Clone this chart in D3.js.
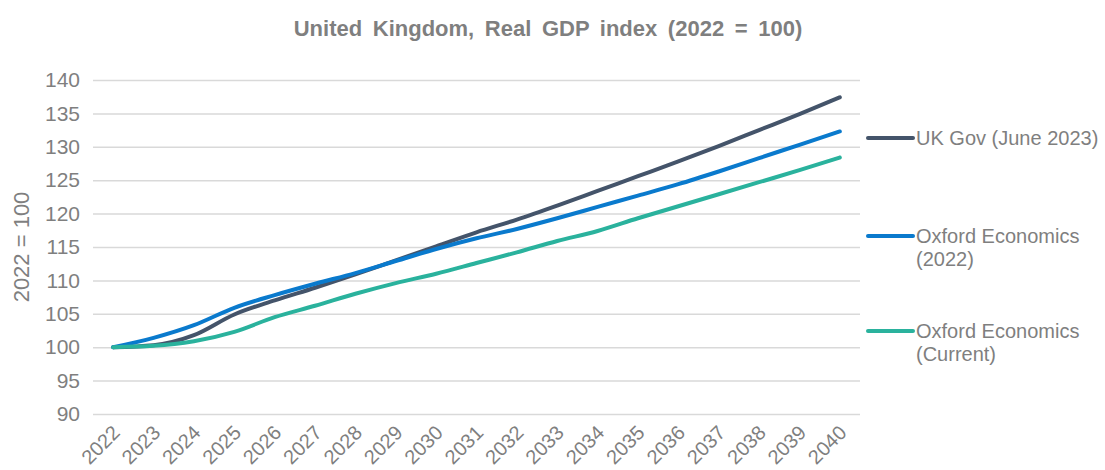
<!DOCTYPE html>
<html>
<head>
<meta charset="utf-8">
<script src="https://cdn.jsdelivr.net/npm/d3@7"></script>
<style>
  html, body { margin: 0; padding: 0; background: #fff; }
  svg { display: block; font-family: "Liberation Sans", Arial, sans-serif; }
</style>
</head>
<body>
<svg id="chart" width="1105" height="470"></svg>
<script>
// Years on the category axis
const years = [2022, 2023, 2024, 2025, 2026, 2027, 2028, 2029, 2030, 2031,
               2032, 2033, 2034, 2035, 2036, 2037, 2038, 2039, 2040];

// Real GDP index, 2022 = 100
const ukGov = [100, 100.3, 101.8, 104.9, 107.0, 108.9, 110.9, 113.0, 115.1, 117.2,
               119.1, 121.2, 123.4, 125.6, 127.8, 130.1, 132.5, 134.9, 137.4];
const oxford2022 = [100, 101.4, 103.3, 105.9, 107.8, 109.5, 111.1, 112.9, 114.7, 116.3,
                    117.7, 119.3, 121.0, 122.7, 124.4, 126.3, 128.3, 130.3, 132.3];
const oxfordCurrent = [100, 100.2, 100.9, 102.3, 104.5, 106.2, 108.0, 109.6, 111.0, 112.6,
                       114.2, 115.9, 117.4, 119.3, 121.1, 122.9, 124.7, 126.5, 128.4];

const seriesNames = ["UK Gov (June 2023)", "Oxford Economics (2022)", "Oxford Economics (Current)"];
const yTicks = [90, 95, 100, 105, 110, 115, 120, 125, 130, 135, 140];

const series = [
  { name: seriesNames[0], values: ukGov, color: "#44546A", lines: ["UK Gov (June 2023)"] },
  { name: seriesNames[1], values: oxford2022, color: "#0A7ACD", lines: ["Oxford Economics", "(2022)"] },
  { name: seriesNames[2], values: oxfordCurrent, color: "#2AB29D", lines: ["Oxford Economics", "(Current)"] }
];

const textGrey = "#7F7F7F";
const gridGrey = "#D9D9D9";

const svg = d3.select("#chart");
const plot = { left: 93, right: 860, top: 80, bottom: 414 };

const x = d3.scaleBand()
  .domain(years)
  .range([plot.left, plot.right]);

const y = d3.scaleLinear()
  .domain([90, 140])
  .range([plot.bottom, plot.top]);

// Title
svg.append("text")
  .attr("x", 548)
  .attr("y", 36)
  .attr("text-anchor", "middle")
  .attr("font-size", 22)
  .attr("font-weight", "bold")
  .attr("fill", textGrey)
  .attr("word-spacing", 4.5)
  .text("United Kingdom, Real GDP index (2022 = 100)");

// Horizontal gridlines and y tick labels
const yAxis = d3.axisLeft(y)
  .tickValues(yTicks)
  .tickSize(-(plot.right - plot.left))
  .tickPadding(13)
  .tickFormat(d3.format("d"));

const gy = svg.append("g")
  .attr("transform", `translate(${plot.left},0)`)
  .call(yAxis);
gy.select(".domain").remove();
gy.selectAll(".tick line")
  .attr("stroke", gridGrey)
  .attr("stroke-width", 1.5);
gy.selectAll(".tick text")
  .attr("font-size", 21)
  .attr("fill", textGrey)
  .attr("font-family", "Liberation Sans, Arial, sans-serif");

// Y axis title
svg.append("text")
  .attr("transform", "translate(29,247) rotate(-90)")
  .attr("text-anchor", "middle")
  .attr("font-size", 22)
  .attr("fill", textGrey)
  .text("2022 = 100");

// X axis labels, rotated
const xAxis = d3.axisBottom(x).tickSize(0).tickPadding(0);
const gx = svg.append("g")
  .attr("transform", `translate(0,${plot.bottom})`)
  .call(xAxis);
gx.select(".domain").remove();
gx.selectAll(".tick text")
  .attr("font-size", 20)
  .attr("fill", textGrey)
  .attr("font-family", "Liberation Sans, Arial, sans-serif")
  .attr("text-anchor", "end")
  .attr("dy", 0)
  .attr("transform", "translate(8,20) rotate(-45)");

// Series lines
const line = d3.line()
  .x((d, i) => x(years[i]) + x.bandwidth() / 2)
  .y(d => y(d))
  .curve(d3.curveMonotoneX);

svg.append("g")
  .selectAll("path")
  .data(series)
  .join("path")
  .attr("d", d => line(d.values))
  .attr("fill", "none")
  .attr("stroke", d => d.color)
  .attr("stroke-width", 4)
  .attr("stroke-linecap", "round")
  .attr("stroke-linejoin", "round");

// Legend
const legendY = [138, 236, 331];
const legend = svg.append("g")
  .selectAll("g")
  .data(series)
  .join("g")
  .attr("transform", (d, i) => `translate(868,${legendY[i]})`);

legend.append("line")
  .attr("x1", 0).attr("x2", 45)
  .attr("y1", 0).attr("y2", 0)
  .attr("stroke", d => d.color)
  .attr("stroke-width", 4)
  .attr("stroke-linecap", "round");

legend.append("text")
  .attr("x", 48)
  .attr("y", 7)
  .attr("font-size", 20)
  .attr("fill", textGrey)
  .selectAll("tspan")
  .data(d => d.lines)
  .join("tspan")
  .attr("x", 48)
  .attr("dy", (d, i) => i === 0 ? 0 : 23)
  .text(d => d);
</script>
</body>
</html>
